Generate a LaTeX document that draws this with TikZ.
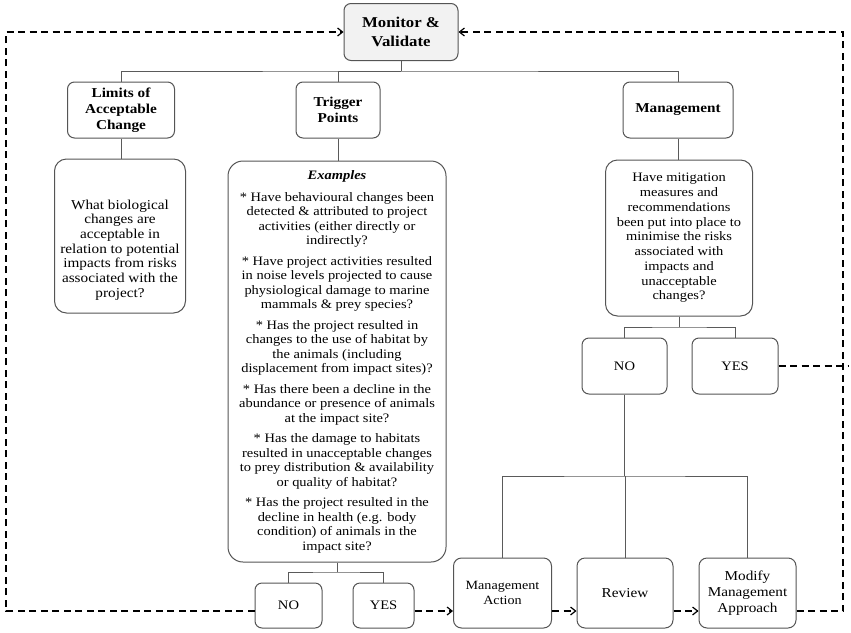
\documentclass[tikz,border=0pt]{standalone}
\usepackage{fontspec}
\setmainfont[FakeStretch=1.12]{Liberation Serif}
\usetikzlibrary{arrows.meta}
\definecolor{boxline}{HTML}{555555}
\definecolor{linkline}{HTML}{5A5A5A}
\definecolor{monfill}{HTML}{F2F2F2}
\begin{document}
\begin{tikzpicture}[x=1pt,y=-1pt,
  box/.style={draw=boxline, line width=1pt, rounded corners=7pt, fill=white, inner sep=0pt, align=center},
  titlebox/.style={box, font=\fontsize{13.6}{16}\selectfont\bfseries},
  bodytxt/.style={align=center, inner sep=0pt},
  smallbox/.style={box, font=\fontsize{13}{14.5}\selectfont},
  botbox/.style={box, rounded corners=8pt, font=\fontsize{13.6}{15.5}\selectfont},
  link/.style={draw=linkline, line width=1pt},
  dashline/.style={draw=black, line width=1.8pt, dash pattern=on 7pt off 4.5pt},
  tip/.style={-{Straight Barb[length=5pt,width=8pt,line width=1.2pt]}}
]
\useasboundingbox (0,0) rectangle (851,632);

% top
\node[box, fill=monfill, minimum width=114pt, minimum height=57pt, font=\fontsize{15}{18.5}\selectfont\bfseries] (mon) at (401,32) {Monitor \&\\Validate};

\node[titlebox, minimum width=107pt, minimum height=56pt] (lim) at (121,110) {Limits of\\Acceptable\\Change};
\node[titlebox, minimum width=84pt, minimum height=56pt] (trg) at (338,110) {Trigger\\Points};
\node[titlebox, minimum width=110pt, minimum height=56pt] (mgt) at (678,110) {Management};

% question boxes
\node[box, rounded corners=12pt, minimum width=131pt, minimum height=154pt] (limq) at (120,236) {};
\node[bodytxt, font=\fontsize{13.6}{14.7}\selectfont] (limt) at (120,250) {What biological\\changes are\\acceptable in\\relation to potential\\impacts from risks\\associated with the\\project?};

\node[box, rounded corners=15pt, minimum width=218pt, minimum height=401pt, font=\fontsize{12.9}{14.5}\selectfont] (trgq) at (337,361.5) {\textbf{\textit{Examples}}\\[7.5pt]
* Have behavioural changes been\\
detected \& attributed to project\\
activities (either directly or\\
indirectly?\\[6pt]
* Have project activities resulted\\
in noise levels projected to cause\\
physiological damage to marine\\
mammals \& prey species?\\[6pt]
* Has the project resulted in\\
changes to the use of habitat by\\
the animals (including\\
displacement from impact sites)?\\[6pt]
* Has there been a decline in the\\
abundance or presence of animals\\
at the impact site?\\[6pt]
* Has the damage to habitats\\
resulted in unacceptable changes\\
to prey distribution \& availability\\
or quality of habitat?\\[6pt]
* Has the project resulted in the\\
decline in health (e.g. body\\
condition) of animals in the\\
impact site?};

\node[box, rounded corners=12pt, minimum width=147pt, minimum height=156pt, font=\fontsize{12.9}{14.75}\selectfont] (mgtq) at (679,238) {Have mitigation\\measures and\\recommendations\\been put into place to\\minimise the risks\\associated with\\impacts and\\unacceptable\\changes?};

% yes/no right
\node[smallbox, minimum width=85pt, minimum height=56pt] (no1) at (624.5,366) {NO};
\node[smallbox, minimum width=86pt, minimum height=56pt] (yes1) at (735,366) {YES};

% bottom row
\node[botbox, minimum width=98pt, minimum height=70pt, font=\fontsize{12.6}{14.3}\selectfont] (act) at (502.5,593) {Management\\Action};
\node[botbox, minimum width=96pt, minimum height=70pt] (rev) at (625,593) {Review};
\node[botbox, minimum width=97pt, minimum height=70pt, font=\fontsize{13.6}{16}\selectfont] (mod) at (747.5,593) {Modify\\Management\\Approach};

\node[smallbox, minimum width=67pt, minimum height=45pt] (no2) at (288.5,605.5) {NO};
\node[smallbox, minimum width=61pt, minimum height=45pt] (yes2) at (383.5,605.5) {YES};

% solid connectors
\coordinate (bus1) at (401,71);
\draw[link] (mon.south) -- (bus1);
\draw[link] (lim.north) |- (bus1) -| (mgt.north);
\draw[link] (trg.north) |- (bus1);
\draw[link] (lim.south) -- (lim.south |- limq.north);
\draw[link] (trg.south) -- (trg.south |- trgq.north);
\draw[link] (mgt.south) -- (mgt.south |- mgtq.north);

\coordinate (bus2) at (679,327);
\draw[link] (mgtq.south) -- (bus2);
\draw[link] (no1.north) |- (bus2) -| (yes1.north);

\coordinate (bus3) at (624.5,476);
\draw[link] (no1.south) -- (bus3);
\draw[link] (act.north) |- (bus3) -| (mod.north);
\draw[link] (rev.north) -- (rev.north |- bus3);

\coordinate (bus4) at (337,572);
\draw[link] (trgq.south) -- (bus4);
\draw[link] (no2.north) |- (bus4) -| (yes2.north);

% dashed feedback lines
\coordinate (lc1) at (6,611);
\coordinate (lc2) at (6,32);
\coordinate (rc1) at (843,611);
\coordinate (rc2) at (843,32);
\draw[dashline, tip] (no2.west |- lc1) -- (lc1) -- (lc2) -- (mon.west);
\draw[dashline, tip] (mod.east |- rc1) -- (rc1) -- (rc2) -- (mon.east);
\draw[dashline] (yes1.east) -- (849,366);
\draw[dashline, tip] (yes2.east |- lc1) -- (act.west |- lc1);
\draw[dashline, tip] (act.east |- lc1) -- (rev.west |- lc1);
\draw[dashline, tip] (rev.east |- lc1) -- (mod.west |- lc1);
\end{tikzpicture}
\end{document}
